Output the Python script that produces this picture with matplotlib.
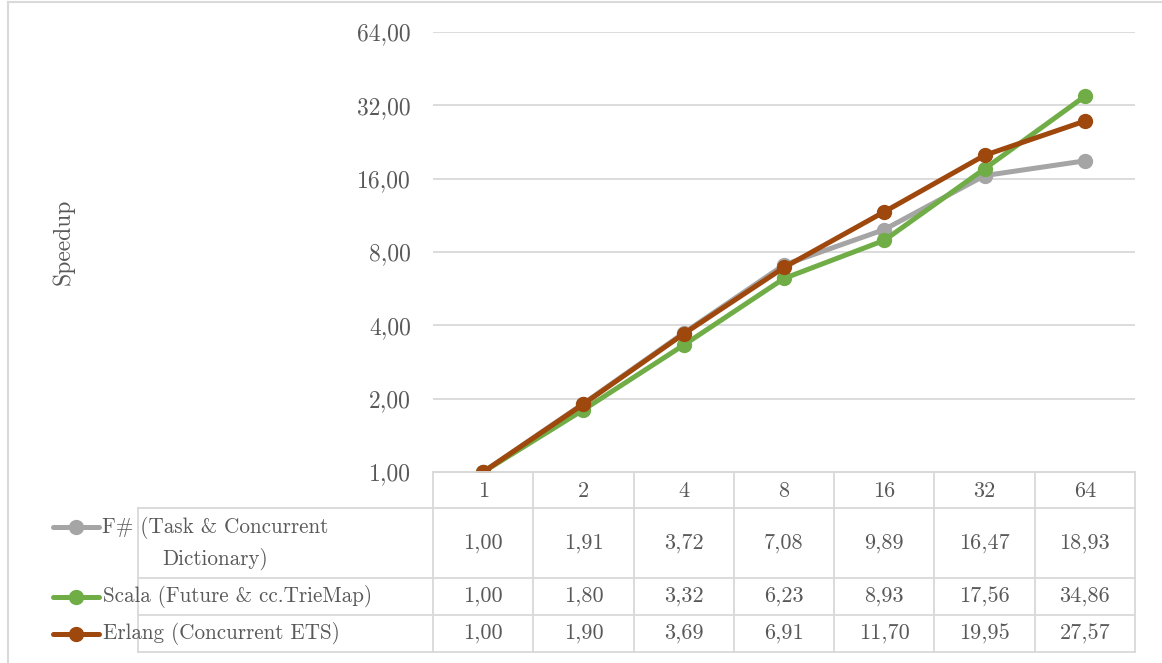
import matplotlib
matplotlib.use("Agg")
import matplotlib.pyplot as plt
import numpy as np

plt.rcParams['font.family'] = ['cmr10', 'DejaVu Serif']
plt.rcParams['axes.formatter.use_mathtext'] = True

cores = ["1", "2", "4", "8", "16", "32", "64"]
fsharp = [1.00, 1.91, 3.72, 7.08, 9.89, 16.47, 18.93]
scala = [1.00, 1.80, 3.32, 6.23, 8.93, 17.56, 34.86]
erlang = [1.00, 1.90, 3.69, 6.91, 11.70, 19.95, 27.57]
series_names = ["F# (Task & Concurrent\nDictionary)", "Scala (Future & cc.TrieMap)", "Erlang (Concurrent ETS)"]
series_vals = [fsharp, scala, erlang]
series_colors = ["#A5A5A5", "#70AD47", "#9E480E"]
yticks = [1, 2, 4, 8, 16, 32, 64]

W, H = 1162, 663
fig = plt.figure(figsize=(W / 100, H / 100), dpi=100)
txt = "#595959"
grid = "#D9D9D9"
fs = 16
fs_tick = 17
fs_lbl = 15.2

# main plot area in pixel coordinates
L, R, T, B = 433, 1135, 32, 472
ax = fig.add_axes([L / W, 1 - B / H, (R - L) / W, (B - T) / H])
x = np.arange(len(cores))
for vals, col in zip(series_vals, series_colors):
    ax.plot(x, vals, color=col, lw=3.6, marker='o', ms=10, solid_capstyle='round', zorder=3)
ax.set_yscale('log', base=2)
ax.set_ylim(1, 64)
ax.set_xlim(-0.5, len(cores) - 0.5)
ax.set_yticks(yticks)
ax.set_yticklabels([f"{v:.2f}".replace('.', ',') for v in yticks])
ax.yaxis.set_minor_locator(matplotlib.ticker.NullLocator())
ax.set_xticks([])
ax.tick_params(axis='y', length=0, pad=16, labelsize=fs_tick, labelcolor=txt)
ax.grid(axis='y', color=grid, lw=1.3)
for s in ['top', 'right', 'left']:
    ax.spines[s].set_visible(False)
ax.spines['bottom'].set_color(grid)
ax.spines['bottom'].set_linewidth(1.3)
ax.set_axisbelow(True)

# overlay for table & frame
ov = fig.add_axes([0, 0, 1, 1], zorder=-1)
ov.set_xlim(0, W)
ov.set_ylim(H, 0)
ov.axis('off')
ov2 = fig.add_axes([0, 0, 1, 1], zorder=5)
ov2.set_xlim(0, W)
ov2.set_ylim(H, 0)
ov2.axis('off')
ov2.patch.set_alpha(0)

# outer frame
ov.plot([8, 8], [2, H], color=grid, lw=1.5)
ov.plot([8, W], [2, 2], color=grid, lw=1.5)

ncol = len(cores)
colw = (R - L) / ncol
row_edges = [472, 508, 578, 615, 652]
LBL = 138
lw_t = 1.3
for i, y in enumerate(row_edges):
    x0 = L if i == 0 else LBL
    ov2.plot([x0, R], [y, y], color=grid, lw=lw_t)
for j in range(ncol + 1):
    xx = L + j * colw
    ov2.plot([xx, xx], [row_edges[0], row_edges[-1]], color=grid, lw=lw_t)
ov2.plot([LBL, LBL], [row_edges[1], row_edges[-1]], color=grid, lw=lw_t)

for j, c in enumerate(cores):
    ov2.text(L + (j + 0.5) * colw, (row_edges[0] + row_edges[1]) / 2 + 1, c,
             ha='center', va='center', fontsize=fs, color=txt)

for i, (name, vals, col) in enumerate(zip(series_names, series_vals, series_colors)):
    yc = (row_edges[i + 1] + row_edges[i + 2]) / 2
    lyc = yc - 16 if i == 0 else yc
    ov2.plot([53, 99], [lyc, lyc], color=col, lw=3.6, solid_capstyle='round')
    ov2.plot([76], [lyc], marker='o', ms=10, color=col)
    if i == 0:
        ov2.text(215, yc, name, ha='center', va='center', fontsize=fs_lbl, color=txt,
                 multialignment='center', linespacing=1.5)
    else:
        ov2.text(103, yc, name, ha='left', va='center', fontsize=fs_lbl, color=txt)
    for j, v in enumerate(vals):
        ov2.text(L + (j + 0.5) * colw, yc, f"{v:.2f}".replace('.', ','),
                 ha='center', va='center', fontsize=fs, color=txt)

fig.text(63 / W, 1 - 242 / H, "Speedup", rotation=90, ha='center', va='center',
         fontsize=fs_tick, color=txt)

fig.savefig("out.png", dpi=100)
